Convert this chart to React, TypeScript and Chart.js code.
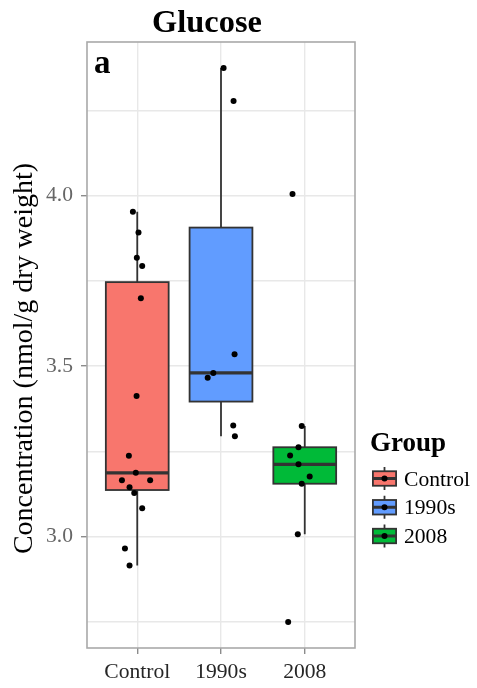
import { useEffect, useRef } from 'react';
import { Chart, registerables } from 'chart.js';

Chart.register(...registerables);

const SERIF = '"Liberation Serif", "Times New Roman", serif';

// Groups along the x axis and their fill colours
const groups = ['Control', '1990s', '2008'];
const groupFills = ['#F8766D', '#619CFF', '#00BA38'];

// Glucose per sample (nmol/g dry weight) and horizontal jitter of each dot
const controlValues = [3.953, 3.892, 3.818, 3.794, 3.699, 3.412, 3.237, 3.187, 3.165, 3.165, 3.145, 3.128, 3.083, 2.965, 2.915];
const controlJitter = [-0.052, 0.015, -0.005, 0.059, 0.043, -0.008, -0.1, -0.017, -0.183, 0.154, -0.092, -0.036, 0.059, -0.147, -0.092];

const ninetiesValues = [4.375, 4.278, 3.535, 3.48, 3.466, 3.326, 3.294];
const ninetiesJitter = [0.031, 0.15, 0.162, -0.092, -0.159, 0.146, 0.166];

const recentValues = [4.005, 3.324, 3.262, 3.238, 3.212, 3.176, 3.155, 3.007, 2.749];
const recentJitter = [-0.146, -0.036, -0.075, -0.175, -0.075, 0.059, -0.036, -0.083, -0.198];

const groupValues = [controlValues, ninetiesValues, recentValues];
const groupJitter = [controlJitter, ninetiesJitter, recentJitter];

// Y axis: range, grid lines and the values that carry a label
const yMin = 2.673;
const yMax = 4.451;
const yGridValues = [2.75, 3.0, 3.25, 3.5, 3.75, 4.0, 4.25];
const yLabelledValues = [3.0, 3.5, 4.0];

const BOX_WIDTH = 0.75;
const LINE_DARK = '#333333';
const DOT_RADIUS = 3;

function quantile(sorted: number[], p: number) {
  const h = (sorted.length - 1) * p;
  const lo = Math.floor(h);
  const hi = Math.ceil(h);
  return sorted[lo] + (sorted[hi] - sorted[lo]) * (h - lo);
}

function boxStats(values: number[]) {
  const s = [...values].sort((a, b) => a - b);
  const q1 = quantile(s, 0.25);
  const med = quantile(s, 0.5);
  const q3 = quantile(s, 0.75);
  const iqr = q3 - q1;
  const lo = Math.min(...s.filter((v) => v >= q1 - 1.5 * iqr));
  const hi = Math.max(...s.filter((v) => v <= q3 + 1.5 * iqr));
  return { q1, med, q3, lo, hi };
}

// Box-and-whisker layer, drawn under the dots
const boxPlugin = {
  id: 'boxWhisker',
  beforeDatasetsDraw(chart: any) {
    const { ctx, scales } = chart;
    const x = scales.x;
    const y = scales.y;
    ctx.save();
    groupValues.forEach((vals, i) => {
      const st = boxStats(vals);
      const cx = x.getPixelForValue(i + 1);
      const left = x.getPixelForValue(i + 1 - BOX_WIDTH / 2);
      const right = x.getPixelForValue(i + 1 + BOX_WIDTH / 2);
      const yq1 = y.getPixelForValue(st.q1);
      const yq3 = y.getPixelForValue(st.q3);
      const ymed = y.getPixelForValue(st.med);
      ctx.strokeStyle = LINE_DARK;
      ctx.lineWidth = 1.8;
      ctx.beginPath();
      ctx.moveTo(cx, y.getPixelForValue(st.hi));
      ctx.lineTo(cx, yq3);
      ctx.moveTo(cx, yq1);
      ctx.lineTo(cx, y.getPixelForValue(st.lo));
      ctx.stroke();
      ctx.fillStyle = groupFills[i];
      ctx.fillRect(left, yq3, right - left, yq1 - yq3);
      ctx.strokeRect(left, yq3, right - left, yq1 - yq3);
      ctx.lineWidth = 3.3;
      ctx.beginPath();
      ctx.moveTo(left, ymed);
      ctx.lineTo(right, ymed);
      ctx.stroke();
    });
    ctx.restore();
  },
};

// Panel frame, titles, panel tag and the legend
const decorPlugin = {
  id: 'decor',
  afterDraw(chart: any) {
    const { ctx, chartArea } = chart;
    ctx.save();
    ctx.strokeStyle = '#a9a9a9';
    ctx.lineWidth = 1.6;
    ctx.strokeRect(chartArea.left, chartArea.top, chartArea.right - chartArea.left, chartArea.bottom - chartArea.top);

    ctx.fillStyle = '#000';
    ctx.textBaseline = 'alphabetic';
    ctx.textAlign = 'center';
    ctx.font = `bold 32.4px ${SERIF}`;
    ctx.fillText('Glucose', 207, 32);

    ctx.textAlign = 'left';
    ctx.font = `bold 33px ${SERIF}`;
    ctx.fillText('a', 94, 72.5);

    ctx.save();
    ctx.translate(32, 358.5);
    ctx.rotate(-Math.PI / 2);
    ctx.textAlign = 'center';
    ctx.font = `28px ${SERIF}`;
    ctx.fillText('Concentration (nmol/g dry weight)', 0, 0);
    ctx.restore();

    // legend
    ctx.textAlign = 'left';
    ctx.font = `bold 27px ${SERIF}`;
    ctx.fillText('Group', 370, 451);
    const cellX = 370;
    const cellW = 29;
    const cellH = 29;
    groups.forEach((g, i) => {
      const cy = 478.5 + i * 28.75;
      const top = cy - cellH / 2;
      const cx = cellX + cellW / 2;
      const bl = cellX + cellW * 0.1;
      const br = cellX + cellW * 0.9;
      ctx.strokeStyle = LINE_DARK;
      ctx.lineWidth = 1.8;
      ctx.beginPath();
      ctx.moveTo(cx, top + cellH * 0.1);
      ctx.lineTo(cx, top + cellH * 0.25);
      ctx.moveTo(cx, top + cellH * 0.75);
      ctx.lineTo(cx, top + cellH * 0.9);
      ctx.stroke();
      ctx.fillStyle = groupFills[i];
      ctx.fillRect(bl, top + cellH * 0.25, br - bl, cellH * 0.5);
      ctx.strokeRect(bl, top + cellH * 0.25, br - bl, cellH * 0.5);
      ctx.lineWidth = 3;
      ctx.beginPath();
      ctx.moveTo(bl, cy);
      ctx.lineTo(br, cy);
      ctx.stroke();
      ctx.fillStyle = '#000';
      ctx.beginPath();
      ctx.arc(cx, cy, DOT_RADIUS, 0, Math.PI * 2);
      ctx.fill();
      ctx.font = `21.6px ${SERIF}`;
      ctx.fillText(g, 404, cy + 7);
    });
    ctx.restore();
  },
};

export default function App() {
  const canvasRef = useRef<HTMLCanvasElement | null>(null);

  useEffect(() => {
    const canvas = canvasRef.current;
    if (!canvas) return;
    const chart = new Chart(canvas, {
      type: 'scatter',
      data: {
        datasets: groupValues.map((vals, i) => ({
          label: groups[i],
          data: vals.map((v, j) => ({ x: i + 1 + groupJitter[i][j], y: v })),
          pointRadius: DOT_RADIUS,
          pointBackgroundColor: '#000',
          pointBorderWidth: 0,
          pointHoverRadius: DOT_RADIUS,
          showLine: false,
        })),
      },
      options: {
        animation: false,
        responsive: false,
        devicePixelRatio: 1,
        events: [],
        layout: { padding: { top: 42, right: 122, left: 0, bottom: 0 } },
        plugins: {
          legend: { display: false },
          tooltip: { enabled: false },
          title: { display: false },
        },
        scales: {
          x: {
            type: 'linear',
            min: 0.4,
            max: 3.6,
            afterFit: (s: any) => {
              s.height = 40;
            },
            afterBuildTicks: (s: any) => {
              s.ticks = groups.map((_, i) => ({ value: i + 1 }));
            },
            ticks: {
              autoSkip: false,
              maxRotation: 0,
              padding: 5,
              color: '#262626',
              font: { family: SERIF, size: 21.6 },
              callback: (v: any) => groups[Math.round(v) - 1] ?? '',
            },
            grid: {
              color: '#e8e8e8',
              lineWidth: 1.4,
              tickColor: '#8c8c8c',
              tickLength: 6,
              tickWidth: 1.4,
            },
            border: { display: false },
          },
          y: {
            type: 'linear',
            min: yMin,
            max: yMax,
            afterFit: (s: any) => {
              s.width = 87;
            },
            afterBuildTicks: (s: any) => {
              s.ticks = yGridValues.map((v) => ({ value: v }));
            },
            ticks: {
              padding: 8,
              color: '#666666',
              font: { family: SERIF, size: 21.6 },
              callback: (v: any) => (yLabelledValues.includes(v) ? Number(v).toFixed(1) : ''),
            },
            grid: {
              color: '#e8e8e8',
              lineWidth: 1.4,
              tickLength: 6,
              tickWidth: 1.4,
              tickColor: (c: any) =>
                c.tick && yLabelledValues.includes(c.tick.value) ? '#8c8c8c' : 'rgba(0,0,0,0)',
            },
            border: { display: false },
          },
        },
      },
      plugins: [boxPlugin, decorPlugin],
    });
    return () => chart.destroy();
  }, []);

  return (
    <div style={{ position: 'absolute', left: 0, top: 0, width: 477, height: 688, background: '#fff' }}>
      <canvas ref={canvasRef} width={477} height={688} style={{ width: 477, height: 688, display: 'block' }} />
    </div>
  );
}
